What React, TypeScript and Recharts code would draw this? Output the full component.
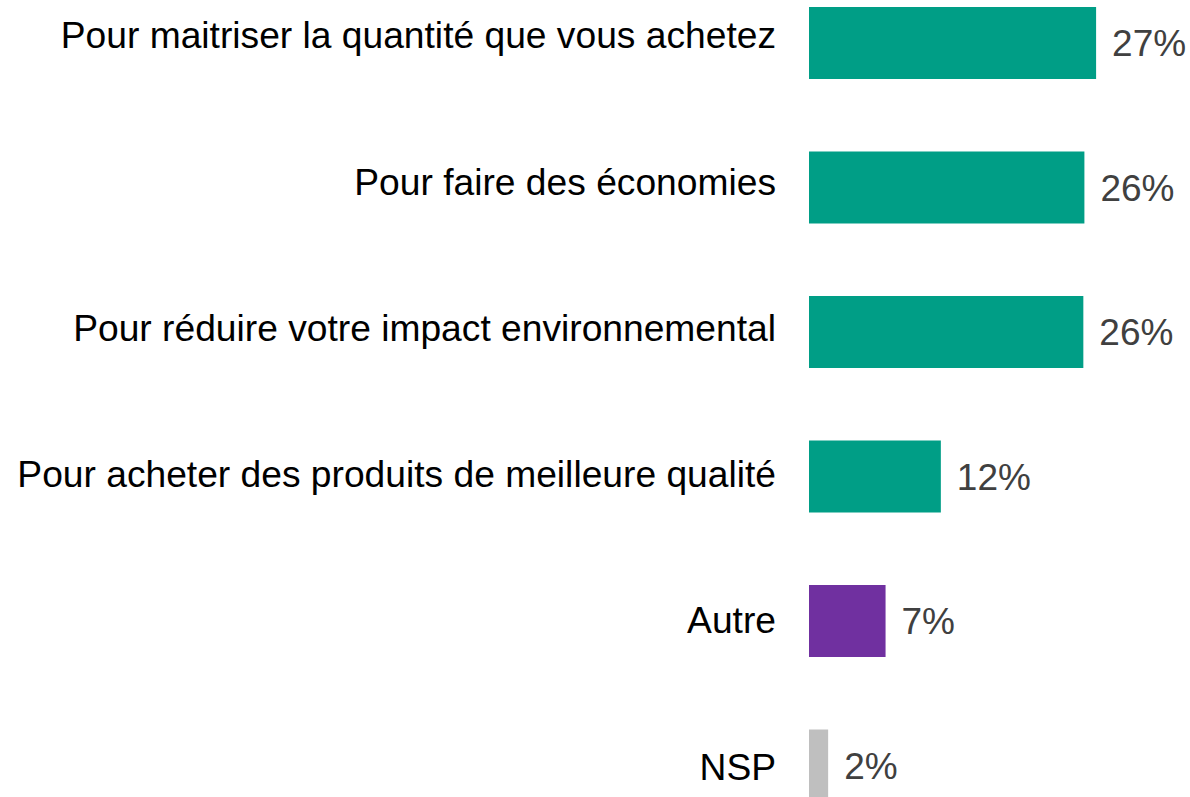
import { BarChart, Bar, XAxis, YAxis, Cell, LabelList } from "recharts";

const categories = [
  "Pour maitriser la quantité que vous achetez",
  "Pour faire des économies",
  "Pour réduire votre impact environnemental",
  "Pour acheter des produits de meilleure qualité",
  "Autre",
  "NSP",
];

const shares = [27.0, 25.9, 25.8, 12.4, 7.2, 1.8];

const barColors = ["#009e86", "#009e86", "#009e86", "#009e86", "#7030a0", "#bfbfbf"];

const FONT = "'Liberation Sans', Arial, sans-serif";

const chartData = categories.map((name, i) => ({ name, value: shares[i] }));

const CategoryTick = (props: any) => {
  const { y, payload, index } = props;
  // labels drift slightly from the bar centres in the original
  const shift = -8 + index * 1.8;
  return (
    <text
      x={776}
      y={y + shift}
      textAnchor="end"
      dominantBaseline="central"
      fontFamily={FONT}
      fontSize={37.2}
      fill="#000000"
    >
      {payload.value}
    </text>
  );
};

export default function App() {
  return (
    <div style={{ position: "fixed", inset: 0, overflow: "hidden", background: "#fff" }}>
      <div style={{ position: "absolute", left: 0, top: -29 }}>
        <BarChart
          width={1190}
          height={867}
          data={chartData}
          layout="vertical"
          margin={{ top: 0, right: 62, bottom: 0, left: 0 }}
          barSize={72}
        >
          <XAxis type="number" domain={[0, 30]} hide />
          <YAxis
            type="category"
            dataKey="name"
            width={809}
            axisLine={false}
            tickLine={false}
            interval={0}
            tick={CategoryTick}
          />
          <Bar dataKey="value" isAnimationActive={false}>
            {chartData.map((_, i) => (
              <Cell key={`c-${i}`} fill={barColors[i]} />
            ))}
            <LabelList
              dataKey="value"
              position="right"
              offset={16}
              formatter={(v: any) => `${Math.round(Number(v))}%`}
              style={{ fontFamily: FONT, fontSize: 37, fill: "#404040" }}
            />
          </Bar>
        </BarChart>
      </div>
    </div>
  );
}
